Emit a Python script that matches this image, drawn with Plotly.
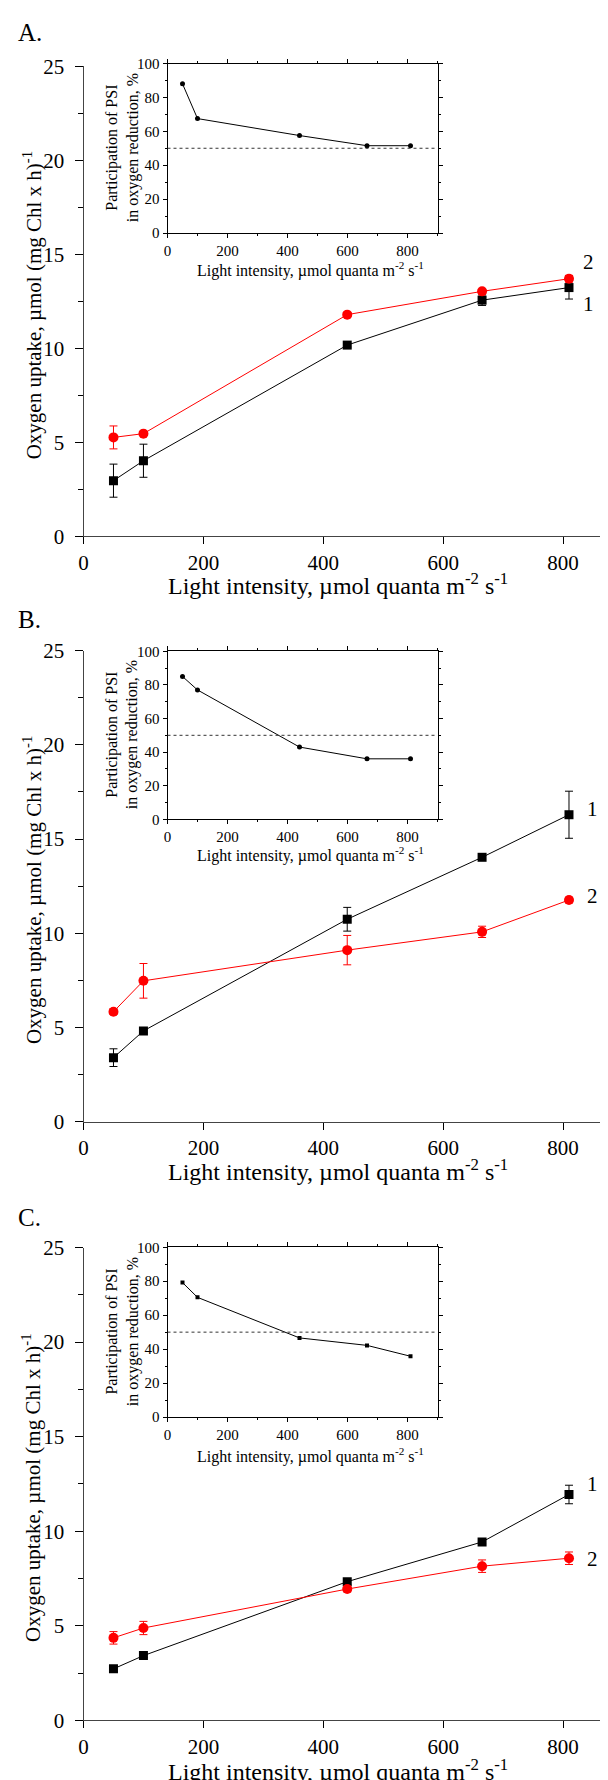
import plotly.graph_objects as go

W, H = 608, 1780

# ---------------- data ----------------
light = [50, 100, 440, 665, 810]

# Panel A
a_s1 = [2.96, 4.02, 10.17, 12.56, 13.23]
a_s1_err = [0.88, 0.88, 0.10, 0.28, 0.61]
a_s2 = [5.26, 5.46, 11.79, 13.03, 13.70]
a_s2_err = [0.61, 0.10, 0.12, 0.10, 0.18]
a_psi = [88.0, 67.5, 57.5, 51.5, 51.5]

# Panel B
b_s1 = [3.39, 4.81, 10.74, 14.03, 16.29]
b_s1_err = [0.47, 0.10, 0.63, 0.10, 1.25]
b_s2 = [5.83, 7.47, 9.10, 10.07, 11.76]
b_s2_err = [0.15, 0.92, 0.78, 0.30, 0.15]
b_psi = [85.0, 77.0, 43.0, 36.0, 36.0]

# Panel C
c_s1 = [2.72, 3.42, 7.33, 9.43, 11.94]
c_s1_err = [0.15, 0.10, 0.15, 0.10, 0.49]
c_s2 = [4.36, 4.88, 6.94, 8.15, 8.57]
c_s2_err = [0.33, 0.35, 0.15, 0.33, 0.33]
c_psi = [79.2, 70.5, 46.6, 42.2, 35.8]

psi_ref = 50
panel_labels = ["A.", "B.", "C."]
series_names = ["1", "2"]
main_yticks = [0, 5, 10, 15, 20, 25]
main_xticks = [0, 200, 400, 600, 800]
inset_yticks = [0, 20, 40, 60, 80, 100]
inset_xticks = [0, 200, 400, 600, 800]

# series label positions (data coords) per panel: (x, y1, y2)
series_label_pos = [(842, 12.35, 14.6), (850, 16.6, 11.95), (850, 12.5, 8.55)]

XTITLE = "Light intensity, µmol quanta m<sup>-2</sup> s<sup>-1</sup>"
YTITLE = "Oxygen uptake, µmol (mg Chl x h)<sup>-1</sup>"
INSET_YTITLE = "Participation of PSI<br>in oxygen reduction, %"

FONT = "Liberation Serif, Times New Roman, serif"
RED = "#ff0000"

# ---------------- geometry (pixels) ----------------
AX_LEFT = 75.5
IN_LEFT, IN_RIGHT = 159.5, 429.5
panels = [
    dict(main_top=58.3, main_bot=528.3, in_top=55.5, in_bot=225.0, in_title=261.0, label_y=25.0, xt=576),
    dict(main_top=642.7, main_bot=1113.5, in_top=643.3, in_bot=811.3, in_title=846.0, label_y=611.5, xt=1162),
    dict(main_top=1239.5, main_bot=1712.3, in_top=1239.3, in_bot=1409.0, in_title=1447.0, label_y=1209.5, xt=1762),
]

def px(x):
    return x / W

def py(y):
    return 1 - y / H

xmax = (W - AX_LEFT) / ((555.0 - AX_LEFT) / 800.0)

data_sets = [
    (a_s1, a_s1_err, a_s2, a_s2_err, a_psi, "circle"),
    (b_s1, b_s1_err, b_s2, b_s2_err, b_psi, "circle"),
    (c_s1, c_s1_err, c_s2, c_s2_err, c_psi, "square"),
]

fig = go.Figure()
annotations = []
shapes = []
layout = {}

for i, (pan, ds) in enumerate(zip(panels, data_sets)):
    s1, s1e, s2, s2e, psi, inset_sym = ds
    mi = 2 * i + 1
    ii = 2 * i + 2
    mx = "x" if mi == 1 else f"x{mi}"
    my = "y" if mi == 1 else f"y{mi}"
    ix, iy = f"x{ii}", f"y{ii}"
    mxk = "xaxis" if mi == 1 else f"xaxis{mi}"
    myk = "yaxis" if mi == 1 else f"yaxis{mi}"

    # main traces
    fig.add_trace(go.Scatter(
        x=light, y=s1, xaxis=mx, yaxis=my, mode="lines+markers",
        line=dict(color="black", width=1),
        marker=dict(symbol="square", size=9, color="black"),
        error_y=dict(type="data", array=s1e, color="black", thickness=1, width=4),
        showlegend=False))
    fig.add_trace(go.Scatter(
        x=light, y=s2, xaxis=mx, yaxis=my, mode="lines+markers",
        line=dict(color=RED, width=1),
        marker=dict(symbol="circle", size=10, color=RED),
        error_y=dict(type="data", array=s2e, color=RED, thickness=1, width=4),
        showlegend=False))

    # inset traces
    fig.add_trace(go.Scatter(
        x=light, y=psi, xaxis=ix, yaxis=iy, mode="lines+markers",
        line=dict(color="black", width=1),
        marker=dict(symbol=inset_sym, size=5 if inset_sym == "circle" else 4, color="black"),
        showlegend=False))

    layout[mxk] = dict(
        domain=[px(AX_LEFT), 1.0], range=[0, xmax], anchor=my,
        tickmode="array", tickvals=main_xticks, ticks="outside", ticklen=7,
        tickcolor="black", tickwidth=1, showline=True, linecolor="#444", linewidth=1,
        showgrid=False, zeroline=False, tickfont=dict(family=FONT, size=21, color="black"),
        ticklabelstandoff=0, automargin=False)
    layout[myk] = dict(
        domain=[py(pan["main_bot"]), py(pan["main_top"])], range=[0, 25], anchor=mx,
        tickmode="array", tickvals=main_yticks, ticks="outside", ticklen=8,
        tickcolor="black", tickwidth=1, showline=True, linecolor="#444", linewidth=1,
        minor=dict(dtick=2.5, tick0=0, ticks="outside", ticklen=5, tickcolor="black", showgrid=False),
        showgrid=False, zeroline=False, tickfont=dict(family=FONT, size=21, color="black"),
        ticklabelstandoff=6, automargin=False)

    ixk, iyk = f"xaxis{ii}", f"yaxis{ii}"
    layout[ixk] = dict(
        domain=[px(IN_LEFT), px(IN_RIGHT)], range=[0, 900], anchor=iy,
        tickmode="array", tickvals=inset_xticks, ticks="outside", ticklen=4,
        tickcolor="black", showline=True, linecolor="black", linewidth=1, mirror="ticks",
        minor=dict(dtick=100, tick0=0, ticks="outside", ticklen=2, tickcolor="black", showgrid=False),
        showgrid=False, zeroline=False, tickfont=dict(family=FONT, size=15, color="black"),
        ticklabelstandoff=0, automargin=False)
    layout[iyk] = dict(
        domain=[py(pan["in_bot"]), py(pan["in_top"])], range=[0, 100], anchor=ix,
        tickmode="array", tickvals=inset_yticks, ticks="outside", ticklen=4,
        tickcolor="black", showline=True, linecolor="black", linewidth=1, mirror="ticks",
        minor=dict(dtick=10, tick0=0, ticks="outside", ticklen=2, tickcolor="black", showgrid=False),
        showgrid=False, zeroline=False, tickfont=dict(family=FONT, size=15, color="black"),
        ticklabelstandoff=0, automargin=False)

    # dotted 50% reference line in inset
    shapes.append(dict(type="line", xref=ix, yref=iy, x0=0, x1=900, y0=psi_ref, y1=psi_ref,
                       line=dict(color="#333", width=1, dash="dot")))

    # panel label
    annotations.append(dict(text=panel_labels[i], xref="paper", yref="paper",
                            x=px(8), y=py(pan["label_y"]), xanchor="left", yanchor="middle",
                            showarrow=False, font=dict(family=FONT, size=25, color="black")))
    # main x title
    annotations.append(dict(text=XTITLE, xref="paper", yref="paper",
                            x=px(330), y=py(pan["xt"]), xanchor="center", yanchor="middle",
                            showarrow=False, font=dict(family=FONT, size=24, color="black")))
    # main y title
    annotations.append(dict(text=YTITLE, xref="paper", yref="paper", textangle=-90,
                            x=px(24), y=py((pan["main_top"] + pan["main_bot"]) / 2 + 4),
                            xanchor="center", yanchor="middle",
                            showarrow=False, font=dict(family=FONT, size=21, color="black")))
    # inset x title
    annotations.append(dict(text=XTITLE, xref="paper", yref="paper",
                            x=px(302), y=py(pan["in_title"]), xanchor="center", yanchor="middle",
                            showarrow=False, font=dict(family=FONT, size=16, color="black")))
    # inset y title
    annotations.append(dict(text=INSET_YTITLE, xref="paper", yref="paper", textangle=-90,
                            x=px(114), y=py((pan["in_top"] + pan["in_bot"]) / 2),
                            xanchor="center", yanchor="middle",
                            showarrow=False, font=dict(family=FONT, size=16, color="black")))
    # series labels
    lx, ly1, ly2 = series_label_pos[i]
    annotations.append(dict(text=series_names[0], xref=mx, yref=my, x=lx, y=ly1,
                            xanchor="center", yanchor="middle", showarrow=False,
                            font=dict(family=FONT, size=21, color="black")))
    annotations.append(dict(text=series_names[1], xref=mx, yref=my, x=lx, y=ly2,
                            xanchor="center", yanchor="middle", showarrow=False,
                            font=dict(family=FONT, size=21, color="black")))

fig.update_layout(
    width=W, height=H, margin=dict(l=0, r=0, t=0, b=0),
    paper_bgcolor="white", plot_bgcolor="white", template="none",
    font=dict(family=FONT, color="black"),
    annotations=annotations, shapes=shapes, showlegend=False,
    **layout)

fig.write_html("out.html")
